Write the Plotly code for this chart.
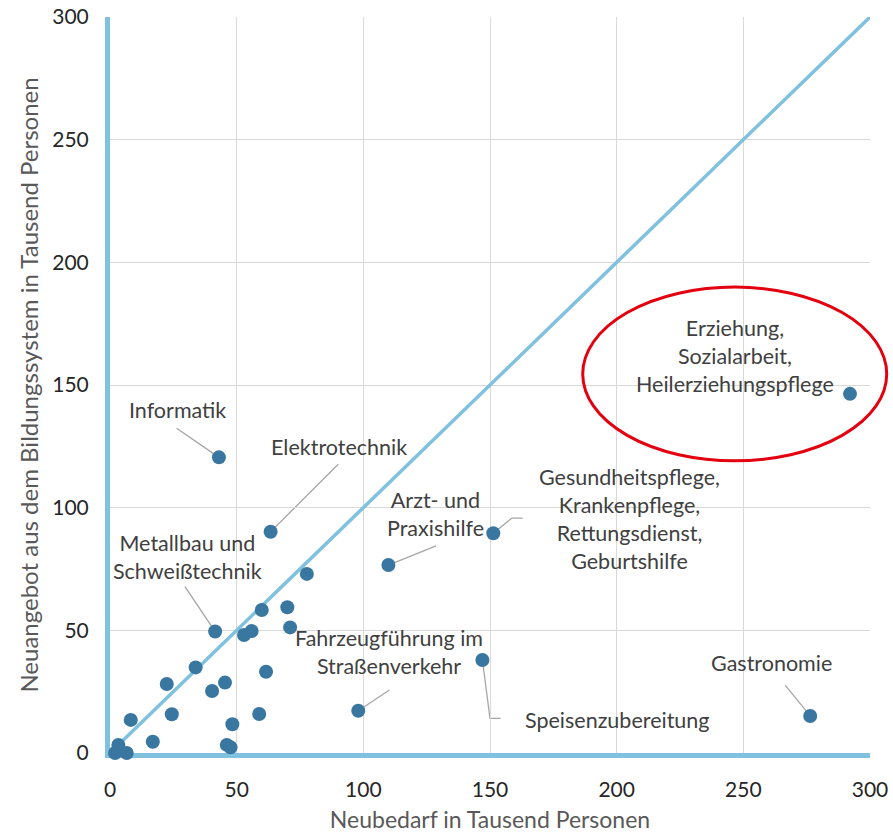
import plotly.graph_objects as go

# ---- data (thousand persons) ----
labeled_names = [
    "Informatik", "Elektrotechnik", "Metallbau und<br>Schweißtechnik",
    "Arzt- und<br>Praxishilfe",
    "Gesundheitspflege,<br>Krankenpflege,<br>Rettungsdienst,<br>Geburtshilfe",
    "Erziehung,<br>Sozialarbeit,<br>Heilerziehungspflege",
    "Fahrzeugführung im<br>Straßenverkehr", "Speisenzubereitung", "Gastronomie",
]
labeled_x = [43.0, 63.4, 41.5, 109.9, 151.3, 292.1, 98.0, 147.0, 276.4]
labeled_y = [120.5, 90.2, 49.5, 76.6, 89.6, 146.4, 17.2, 37.9, 15.1]

other_x = [77.7, 59.9, 70.0, 71.1, 52.9, 55.9, 33.8, 61.6, 22.4, 45.4, 40.3,
           24.4, 58.9, 8.2, 48.3, 16.9, 46.1, 47.6, 3.3, 2.0, 6.6]
other_y = [73.0, 58.3, 59.4, 51.2, 48.1, 49.7, 34.9, 33.1, 28.1, 28.7, 25.3,
           15.8, 15.9, 13.5, 11.7, 4.6, 3.3, 2.3, 3.3, 0.0, 0.0]

diag_x = [0, 300]
diag_y = [0, 300]

x_title = "Neubedarf in Tausend Personen"
y_title = "Neuangebot aus dem Bildungssystem in Tausend Personen"

# label text centres and leader-line waypoints (layout only)
label_pos = [(26.5, 139.8), (90.4, 124.7), (30.4, 79.9), (128.5, 97.4),
             (204.9, 95.4), (246.9, 161.8), (110.1, 41.2), (200.2, 13.5),
             (261.0, 36.7)]
leaders = [
    [(26.3, 132.4)], [(90.1, 117.7)], [(29.6, 67.8)], [(128.7, 84.4)],
    [(158.6, 95.7), (162.9, 95.7)], [], [(110.3, 25.7)],
    [(150.0, 14.1), (154.2, 14.1)], [(266.5, 27.7)],
]

AXIS_BLUE = "#7fc1df"
DOT = "#3a77a0"
FONT = "Lato"

fig = go.Figure()
fig.add_trace(go.Scatter(x=diag_x, y=diag_y, mode="lines",
                         line=dict(color=AXIS_BLUE, width=3.5),
                         hoverinfo="skip", cliponaxis=False))
fig.add_trace(go.Scatter(x=other_x + labeled_x, y=other_y + labeled_y,
                         mode="markers",
                         marker=dict(color=DOT, size=14, line=dict(width=0)),
                         cliponaxis=False))

shapes = []
for (px, py), pts in zip(zip(labeled_x, labeled_y), leaders):
    if not pts:
        continue
    path = f"M {px},{py}" + "".join(f" L {a},{b}" for a, b in pts)
    shapes.append(dict(type="path", path=path, xref="x", yref="y",
                       line=dict(color="#a6a6a6", width=1.3), layer="below"))
shapes.append(dict(type="circle", xref="paper", yref="paper",
                   x0=0.622, x1=1.022, y0=0.397, y1=0.633,
                   line=dict(color="#e3000f", width=3)))

annotations = []
for name, (tx, ty) in zip(labeled_names, label_pos):
    annotations.append(dict(x=tx, y=ty, xref="x", yref="y", text=name,
                            showarrow=False, align="center",
                            font=dict(family=FONT, size=21.5, color="#404040")))

axis_common = dict(range=[0, 300], dtick=50, showgrid=True,
                   gridcolor="#d9d9d9", gridwidth=1.2, zeroline=False,
                   showline=True, linecolor=AXIS_BLUE, linewidth=5,
                   ticks="outside", tickcolor="rgba(0,0,0,0)",
                   tickfont=dict(family=FONT, size=21, color="#262626"),
                   ticklabeloverflow="allow",
                   layer="below traces", automargin=False)

fig.update_layout(
    width=893, height=833,
    margin=dict(l=110, r=23, t=17, b=80),
    paper_bgcolor="white", plot_bgcolor="white",
    showlegend=False,
    xaxis=dict(**axis_common, ticklen=14,
               title=dict(text=x_title, standoff=15,
                          font=dict(family=FONT, size=23, color="#595959"))),
    yaxis=dict(**axis_common, ticklen=12,
               title=dict(text=y_title, standoff=8,
                          font=dict(family=FONT, size=24, color="#595959"))),
    shapes=shapes,
    annotations=annotations,
)

fig.write_html(
    "out.html",
    config={"displayModeBar": False},
    post_script="document.body.style.margin='0px';"
                "document.body.style.overflow='hidden';",
)
